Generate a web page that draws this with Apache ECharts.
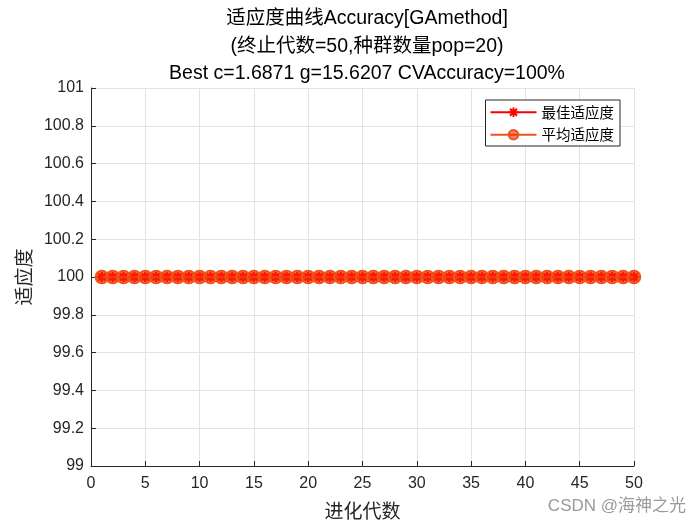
<!DOCTYPE html>
<html><head><meta charset="utf-8">
<script src="https://cdn.jsdelivr.net/npm/echarts@6/dist/echarts.min.js"></script>
<style>html,body{margin:0;padding:0;background:#fff}#c{width:700px;height:525px}</style>
</head><body><div id="c"></div>
<script>
var generations = [1,2,3,4,5,6,7,8,9,10,11,12,13,14,15,16,17,18,19,20,21,22,23,24,25,26,27,28,29,30,31,32,33,34,35,36,37,38,39,40,41,42,43,44,45,46,47,48,49,50];
var bestFitness = [100,100,100,100,100,100,100,100,100,100,100,100,100,100,100,100,100,100,100,100,100,100,100,100,100,100,100,100,100,100,100,100,100,100,100,100,100,100,100,100,100,100,100,100,100,100,100,100,100,100];
var avgFitness = [100,100,100,100,100,100,100,100,100,100,100,100,100,100,100,100,100,100,100,100,100,100,100,100,100,100,100,100,100,100,100,100,100,100,100,100,100,100,100,100,100,100,100,100,100,100,100,100,100,100];
var seriesNames = ['最佳适应度', '平均适应度'];
var titleLines = ['适应度曲线Accuracy[GAmethod]', '(终止代数=50,种群数量pop=20)', 'Best c=1.6871 g=15.6207 CVAccuracy=100%'];
var xName = '进化代数', yName = '适应度';

var FONT = '"Liberation Sans", Arial, "Noto Sans CJK SC", sans-serif';
function pairs(xs, ys){ return xs.map(function(x,i){ return [x, ys[i]]; }); }
var asterisk = 'path://M0,-5L0,5M-5,0L5,0M-3.6,-3.6L3.6,3.6M-3.6,3.6L3.6,-3.6';
var chart = echarts.init(document.getElementById('c'));
chart.setOption({
  backgroundColor: '#fff',
  animation: false,
  title: {
    text: titleLines.join('\n'),
    left: 362, textAlign: 'center', top: 0,
    textStyle: { fontFamily: FONT, fontSize: 19.5, fontWeight: 'normal', color: '#000', lineHeight: 27.5 }
  },
  legend: {
    orient: 'vertical', right: 80, top: 100,
    data: seriesNames,
    itemWidth: 46, itemHeight: 12, itemGap: 8,
    padding: [5, 6, 4, 4],
    borderColor: '#262626', borderWidth: 1, backgroundColor: '#fff',
    textStyle: { fontFamily: '"Noto Sans CJK SC", sans-serif', fontSize: 14.5, color: '#000' }
  },
  grid: { left: 91, right: 66, top: 88, bottom: 59, containLabel: false },
  xAxis: {
    type: 'value', min: 0, max: 50, interval: 5,
    name: xName, nameLocation: 'middle', nameGap: 35,
    nameTextStyle: { fontFamily: '"Noto Sans CJK SC", sans-serif', fontSize: 19, color: '#262626' },
    axisLine: { lineStyle: { color: '#262626', width: 1 } },
    axisTick: { inside: true, length: 5, lineStyle: { color: '#262626' } },
    axisLabel: { fontFamily: FONT, fontSize: 16, color: '#262626', margin: 10 },
    splitLine: { show: true, lineStyle: { color: '#e3e3e3', width: 1 } }
  },
  yAxis: {
    type: 'value', min: 99, max: 101, interval: 0.2,
    name: yName, nameLocation: 'middle', nameGap: 52, nameRotate: 90,
    nameTextStyle: { fontFamily: '"Noto Sans CJK SC", sans-serif', fontSize: 19, color: '#262626' },
    axisLine: { show: true, lineStyle: { color: '#262626', width: 1 } },
    axisTick: { show: true, inside: true, length: 5, lineStyle: { color: '#262626' } },
    axisLabel: { fontFamily: FONT, fontSize: 16, color: '#262626', margin: 7 },
    splitLine: { show: true, lineStyle: { color: '#e3e3e3', width: 1 } }
  },
  series: [
    {
      name: seriesNames[0], type: 'line', data: pairs(generations, bestFitness),
      symbol: asterisk, symbolSize: 10, showAllSymbol: true,
      lineStyle: { color: '#ff0000', width: 2 },
      itemStyle: { color: '#ff0000', borderColor: '#ff0000', borderWidth: 2.5 },
      z: 2
    },
    {
      name: seriesNames[1], type: 'line', data: pairs(generations, avgFitness),
      symbol: 'circle', symbolSize: 12.5, showAllSymbol: true,
      lineStyle: { color: '#e8561a', width: 2 },
      itemStyle: { color: 'rgba(255,40,0,0.6)', borderColor: '#e8561a', borderWidth: 2 },
      z: 3
    }
  ],
  graphic: [{
    type: 'text', right: 14, bottom: 10,
    style: { text: 'CSDN @海神之光', fill: '#9a9a9a', font: '17px "Liberation Sans", "Noto Sans CJK SC", sans-serif' }
  }]
});
</script></body></html>
